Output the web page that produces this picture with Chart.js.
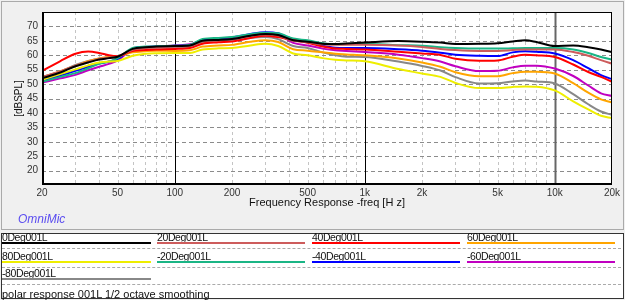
<!DOCTYPE html>
<html>
<head>
<meta charset="utf-8">
<script src="https://cdn.jsdelivr.net/npm/chart.js@4.4.1/dist/chart.umd.min.js"></script>
<style>
  body { margin:0; width:625px; height:300px; background:#f0f0f0; position:relative; overflow:hidden;
         font-family:'Liberation Sans',Arial,sans-serif; }
  #panel { position:absolute; left:1px; top:1px; width:621px; height:227px; border:1px solid #aaa; background:#f0f0f0; }
  #chartBox { position:absolute; left:0; top:0; width:625px; height:230px; }
  #omni { position:absolute; left:18px; top:212px; font:italic 12px 'Liberation Sans',Arial,sans-serif; color:#5a4cf0; }
  #legend { position:absolute; left:1px; top:233px; width:621px; height:64px; background:#fff; border:1px solid #333; }
  .lg-txt { position:absolute; font-size:10.5px; line-height:10px; color:#111; white-space:nowrap; letter-spacing:-0.4px; }
  .lg-line { position:absolute; height:2px; }
  .lg-sep { position:absolute; left:2px; width:619px; height:0; border-top:1px dashed #aaa; }
</style>
</head>
<body>
<div id="panel"></div>
<div id="chartBox"><canvas id="fr"></canvas></div>
<div id="omni">OmniMic</div>
<div id="legend"></div>
<script>
// ─── Data ─────────────────────────────────────────────────────────────────────
const freqs = [20,25,30,35,40,45,50,60,70,80,100,120,140,170,200,250,300,350,420,500,600,700,800,
               1000,1500,2000,2500,3000,4000,5000,6000,7000,8000,10000,12500,15000,17500,20000];

const deg0   = [52,54,56.2,57.5,58.5,59,59.5,62.2,62.8,63,63.2,63.4,65,65.3,65.6,66.8,67.4,67,65.2,64.7,64,63.9,64.1,
                64.4,64.9,64.7,64.4,63.9,64,64.2,64.8,65.2,64.6,63.2,63.4,62.8,62,61.1];
const deg20  = [52.5,54.4,56.4,57.7,58.7,59.2,59.6,61.9,62.5,62.8,63,63.2,64.8,65.2,65.5,66.7,67.2,66.8,65,64.5,63.8,63.6,63.6,
                63.6,63.4,62.9,62.2,61.8,61.5,61.5,61.8,62,62,62,61.1,59.8,58.3,57.1];
const deg40  = [54.5,58,60.5,61.3,60.8,60,59.7,61.5,61.8,62,62.2,62.5,64,64.5,64.8,66,66.8,66.3,65.2,64.3,63,62.3,62.2,
                62,61.2,60.6,60.1,58.8,58.1,58.2,59.5,60.2,60,59.4,56.8,54.2,52.5,50.8];
const deg60  = [52.3,54.5,56.3,57.9,58.9,59.4,59.7,61,61.4,61.6,61.5,61.7,63,63.4,63.6,64.7,65.2,64.6,62.1,61.6,61,60.5,60.3,
                60,58.9,57.5,56,54.1,52.7,52.7,53.8,54.3,54.3,53.7,50.3,47,44.7,43.6];
const deg80  = [51.5,53.5,55.1,56.5,57.5,57.8,58,59.8,60.5,60.7,60.8,60.8,62,62.4,62.5,63.4,64,63.2,60.6,60,59,58.4,58.2,
                57.9,55.2,53.7,52.5,50.4,48.6,48.6,49,49.2,49.1,47.8,44,41.2,39,38.2];
const degM20 = [50.8,52.5,53.8,55.5,57,57.8,59,62.5,63,63.1,63.3,63.6,65.6,66,66.3,67.3,67.8,67.6,65.8,65.2,64.2,63.8,63.9,
                64,63.5,63.3,62.8,62.5,62.3,62.3,62.4,62.5,62.5,62.5,62,60.8,59.4,58.5];
const degM40 = [51.3,53,54.6,56,57.1,57.8,58.7,62.3,62.9,63,63.3,63.5,65.3,65.7,66.2,67.4,68,67.6,65.3,64.6,63.3,62.6,62.5,
                62.5,62.1,61.6,60.9,60.2,59.8,59.7,61,61.4,61.2,60.6,58.3,55.5,53.1,51.7];
const degM60 = [50.5,52,53.2,54.8,56,57,58.2,62.2,62.9,63,63.4,63.8,65.2,65.5,65.8,67,67.6,67.2,64.3,63.4,62.3,61.7,61.5,
                61.1,60.2,59,57.8,56.2,54.5,54.6,55.8,56.4,56.4,55.4,52.8,49.5,46.8,45.9];
const degM80 = [52.5,54.3,56.6,58,58.9,59.2,59.5,61.8,62.4,62.6,62.6,62.8,64.4,64.8,65,66,66.3,65.6,63.2,62.5,61,60,59.5,
                59.4,57.8,56.3,54.7,52.4,50.2,50.3,50.9,51.2,50.9,50.2,46.5,43,40.5,39.3];

const seriesNames  = ['0Deg001L','20Deg001L','40Deg001L','60Deg001L','80Deg001L','-20Deg001L','-40Deg001L','-60Deg001L','-80Deg001L'];
const seriesColors = ['#000000','#cd5c5c','#ff0000','#ffa500','#eeee00','#1ab585','#0000ff','#c000c0','#888888'];
const seriesData   = [deg0, deg20, deg40, deg60, deg80, degM20, degM40, degM60, degM80];

const gridFreqs   = [30,40,50,60,70,80,90,200,300,400,500,600,700,800,900,
                     2000,3000,4000,5000,6000,7000,8000,9000];
const xTickValues = [20,50,100,200,500,1000,2000,5000,10000,20000];
const xTickLabels = ['20','50','100','200','500','1k','2k','5k','10k','20k'];
const majorFreqs  = [100,1000,10000];
const yTickLabels = [20,25,30,35,40,45,50,55,60,65,70];

// ─── Legend table (HTML) ─────────────────────────────────────────────────────
const lg = document.body;
const colX = [2,157,312,467], colW = [149,148,148,148];
const rowTxt = [232,250.5,267.5], rowLine = [242,260.5,278];
[248,266.5,284].forEach(y => {
  const d = document.createElement('div'); d.className='lg-sep'; d.style.top=y+'px'; lg.appendChild(d);
});
seriesNames.forEach((n,i) => {
  const r = Math.floor(i/4), c = i%4;
  const t = document.createElement('div');
  t.className='lg-txt'; t.textContent=n;
  t.style.left=colX[c]+'px'; t.style.top=rowTxt[r]+'px';
  lg.appendChild(t);
  const l = document.createElement('div');
  l.className='lg-line'; l.style.background=seriesColors[i];
  l.style.left=colX[c]+'px'; l.style.top=rowLine[r]+'px'; l.style.width=colW[c]+'px';
  lg.appendChild(l);
});
const foot = document.createElement('div');
foot.className='lg-txt'; foot.textContent='polar response 001L 1/2 octave smoothing';
foot.style.left='2px'; foot.style.top='289px'; foot.style.fontSize='11px'; foot.style.letterSpacing='0';
lg.appendChild(foot);

// ─── Chart ───────────────────────────────────────────────────────────────────
const TICK_FONT = { family:"'Liberation Sans',Arial,sans-serif", size:10 };

// white plot area, dashed grid, solid decade lines, frame
const framePlugin = {
  id:'frame',
  beforeDraw(chart) {
    const a = chart.chartArea, ctx = chart.ctx;
    ctx.save(); ctx.fillStyle='#fff'; ctx.fillRect(a.left, a.top, a.right-a.left, a.bottom-a.top); ctx.restore();
  },
  beforeDatasetsDraw(chart) {
    const a = chart.chartArea, ctx = chart.ctx, xs = chart.scales.x, ys = chart.scales.y;
    ctx.save();
    ctx.lineWidth = 1;
    // minor vertical grid
    ctx.strokeStyle = '#c4c4c4'; ctx.setLineDash([3,3]);
    gridFreqs.forEach(f => {
      const x = Math.round(xs.getPixelForValue(f)) + 0.5;
      ctx.beginPath(); ctx.moveTo(x, a.top); ctx.lineTo(x, a.bottom); ctx.stroke();
    });
    // horizontal grid
    ctx.strokeStyle = '#8c8c8c'; ctx.setLineDash([4,3]);
    yTickLabels.forEach(v => {
      const y = Math.round(ys.getPixelForValue(v)) + 0.5;
      ctx.beginPath(); ctx.moveTo(a.left, y); ctx.lineTo(a.right, y); ctx.stroke();
    });
    ctx.setLineDash([]);
    majorFreqs.forEach(f => {
      const x = Math.round(xs.getPixelForValue(f)) + 0.5;
      ctx.strokeStyle = f===10000 ? '#666' : '#000';
      ctx.lineWidth   = f===10000 ? 2 : 1;
      ctx.beginPath(); ctx.moveTo(x, a.top); ctx.lineTo(x, a.bottom); ctx.stroke();
    });
    ctx.restore();
  },
  afterDraw(chart) {
    const a = chart.chartArea, ctx = chart.ctx;
    ctx.save();
    ctx.strokeStyle='#000'; ctx.lineWidth=1;
    ctx.strokeRect(a.left+0.5, a.top+0.5, a.right-a.left-1, a.bottom-a.top-1);
    ctx.lineWidth=2;
    ctx.beginPath(); ctx.moveTo(a.left+1, a.top); ctx.lineTo(a.left+1, a.bottom-1); ctx.lineTo(a.right, a.bottom-1); ctx.stroke();
    ctx.restore();
  }
};

new Chart(document.getElementById('fr'), {
  type:'line',
  data:{
    datasets: seriesData.map((d,i) => ({
      label: seriesNames[i],
      data: freqs.map((f,k) => ({ x:f, y:d[k] })),
      borderColor: seriesColors[i],
      borderWidth: 2,
      pointRadius: 0,
      cubicInterpolationMode: 'monotone',
      fill: false,
    }))
  },
  options:{
    responsive:true, maintainAspectRatio:false, animation:false,
    layout:{ padding:{ top:12, right:13, left:0, bottom:0 } },
    plugins:{ legend:{ display:false }, tooltip:{ enabled:false } },
    scales:{
      x:{
        type:'logarithmic', min:20, max:20000,
        afterBuildTicks: s => { s.ticks = xTickValues.map(v => ({ value:v })); },
        afterFit: s => { s.height = 45; },
        ticks:{ autoSkip:false, maxRotation:0, padding:2, color:'#333', font:TICK_FONT,
                callback: v => { const i = xTickValues.indexOf(v); return i>=0 ? xTickLabels[i] : ''; } },
        grid:{ display:false, drawTicks:false },
        border:{ display:false },
        title:{ display:true, text:'Frequency Response -freq [H z]', color:'#111',
                font:{ family:"'Liberation Sans',Arial,sans-serif", size:11 }, padding:{ top:0, bottom:20 } }
      },
      y:{
        min:15, max:75,
        afterBuildTicks: s => { s.ticks = yTickLabels.map(v => ({ value:v })); },
        afterFit: s => { s.width = 42; },
        ticks:{ autoSkip:false, padding:4, color:'#333', font:TICK_FONT,
                callback: v => String(v) },
        grid:{ display:false, drawTicks:false },
        border:{ display:false },
        title:{ display:true, text:'[dBSPL]', color:'#111', align:'center',
                font:{ family:"'Liberation Sans',Arial,sans-serif", size:10 }, padding:{ top:13, bottom:0 } }
      }
    }
  },
  plugins:[framePlugin]
});
</script>
</body>
</html>
